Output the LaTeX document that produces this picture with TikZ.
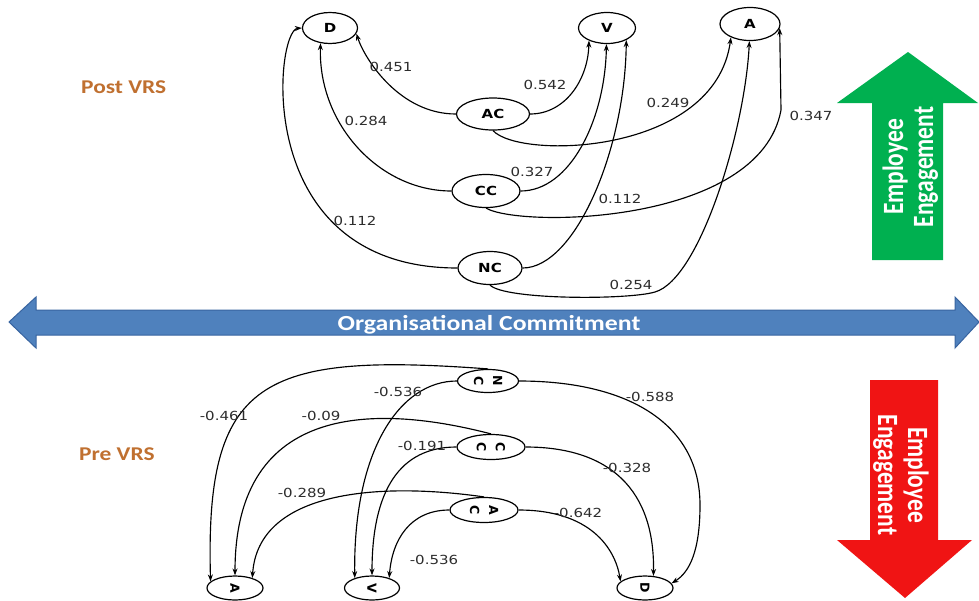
\documentclass[tikz,border=0pt]{standalone}
\usepackage{fontspec}
\usepackage{graphicx}
\usetikzlibrary{shapes.geometric,arrows.meta}
\newfontfamily\numfont{DejaVu Sans}[FakeStretch=1.2]
\newfontfamily\plainfont{DejaVu Sans}
\newfontfamily\calfont{Carlito}[FakeStretch=1.2]
\newfontfamily\calplain{Carlito}
\definecolor{vrs}{RGB}{192,112,48}
\definecolor{blueA}{RGB}{79,129,189}
\definecolor{blueB}{RGB}{56,100,160}
\definecolor{greenA}{RGB}{0,176,80}
\definecolor{redA}{RGB}{240,20,20}
\definecolor{numgray}{RGB}{45,45,45}
\begin{document}
\begin{tikzpicture}[x=1pt,y=-1pt,
  ell/.style={ellipse, draw, line width=1.2pt, inner sep=0pt, font=\numfont\bfseries\fontsize{12.5}{14}\selectfont},
  bell/.style={ellipse, draw, line width=1.2pt, inner sep=0pt, rotate=-90, align=center, font=\plainfont\bfseries\fontsize{12.5}{19}\selectfont},
  conn/.style={line width=1.15pt, -{Stealth[length=7pt,width=5pt]}},
  lab/.style={font=\numfont\fontsize{12.5}{14}\selectfont, text=numgray, inner sep=0pt},
  bigtxt/.style={font=\calfont\bfseries\fontsize{19.5}{24}\selectfont},
  armtxt/.style={font=\calplain\bfseries\fontsize{23.5}{24}\selectfont, text=white, align=center, inner sep=0pt}
]
\useasboundingbox (0,0) rectangle (979,600);
\fill[white] (0,0) rectangle (979,600);

% ---------- side texts ----------
\node[bigtxt, text=vrs, anchor=base west, inner sep=0pt] (post) at (81,93) {Post VRS};
\node[bigtxt, text=vrs, anchor=base west, inner sep=0pt] (pre) at (79,460) {Pre VRS};

% ---------- blue double arrow ----------
\filldraw[fill=blueA, draw=blueB, line width=1pt]
  (9,322) -- (36,297) -- (36,310) -- (955,310) -- (955,297) -- (979,322)
  -- (955,348) -- (955,335) -- (36,335) -- (36,348) -- cycle;
\node[text=white, anchor=base, inner sep=0pt, font=\calfont\bfseries\fontsize{21.5}{24}\selectfont] (oc) at (489,330) {Organisational Commitment};

% ---------- green up arrow ----------
\fill[greenA] (872,260) -- (872,103) -- (837,103) -- (908,52) -- (978,103) -- (943,103) -- (943,260) -- cycle;
\node[armtxt] (eeup) at (912,167) {\scalebox{1.25}[1]{\rotatebox{90}{\begin{tabular}{@{}c@{}}Employee\\Engagement\end{tabular}}}};

% ---------- red down arrow ----------
\fill[redA] (870,380) -- (938,380) -- (938,540) -- (972,540) -- (905,598) -- (837,540) -- (870,540) -- cycle;
\node[armtxt] (eedown) at (899,475) {\scalebox{1.25}[1]{\rotatebox{-90}{\begin{tabular}{@{}c@{}}Employee\\Engagement\end{tabular}}}};

% ---------- top (Post VRS) nodes ----------
\node[ell, minimum width=55pt, minimum height=31pt] (D) at (330,28) {D};
\node[ell, minimum width=57pt, minimum height=31pt] (V) at (607,28) {V};
\node[ell, minimum width=60pt, minimum height=33pt] (A) at (750,24) {A};
\node[ell, minimum width=73pt, minimum height=32pt] (AC) at (493,114) {AC};
\node[ell, minimum width=68pt, minimum height=33pt] (CC) at (486,191) {CC};
\node[ell, minimum width=64pt, minimum height=33pt] (NC) at (490,268) {NC};

\draw[conn] (AC.west) .. controls (400,114) and (365,60) .. (D.-12);
\draw[conn] (AC.east) .. controls (565,114) and (588,80) .. (V.215);
\draw[conn] (AC.south) .. controls (520,160) and (715,155) .. (A.215);
\draw[conn] (CC.west) .. controls (380,191) and (318,125) .. (D.238);
\draw[conn] (CC.east) .. controls (570,191) and (605,120) .. (V.268);
\draw[conn] (CC.south) .. controls (520,228) and (760,225) .. (781,110) -- (A.-8);
\draw[conn] (NC.west) .. controls (250,268) and (275,30) .. (D.west);
\draw[conn] (NC.east) .. controls (575,268) and (625,150) .. (V.-32);
\draw[conn] (NC.south) .. controls (505,300) and (628,300) .. (655,292) .. controls (700,279) and (745,130) .. (A.268);

\node[lab] (l1) at (391,67) {0.451};
\node[lab] (l2) at (545,85) {0.542};
\node[lab] (l3) at (668,103) {0.249};
\node[lab] (l4) at (811,116) {0.347};
\node[lab] (l5) at (366,121) {0.284};
\node[lab] (l6) at (532,172) {0.327};
\node[lab] (l7) at (620,199) {0.112};
\node[lab] (l8) at (355,221) {0.112};
\node[lab] (l9) at (631,285) {0.254};

% ---------- bottom (Pre VRS) nodes: rotated a quarter turn clockwise ----------
% local angle = page angle + 90
\node[bell, minimum height=61pt, minimum width=23pt] (NCb) at (488,381) {N\\C};
\node[bell, minimum height=68pt, minimum width=25pt] (CCb) at (491,447) {C\\C};
\node[bell, minimum height=68pt, minimum width=25pt] (ACb) at (484,510) {A\\C};
\node[bell, minimum height=56pt, minimum width=24pt] (Ab) at (235,588) {A};
\node[bell, minimum height=55pt, minimum width=24pt] (Vb) at (372,588) {V};
\node[bell, minimum height=56pt, minimum width=24pt] (Db) at (645,588) {D};

\draw[conn] (NCb.west) .. controls (260,352) and (205,380) .. (Ab.255);
\draw[conn] (NCb.south) .. controls (400,381) and (353,450) .. (Vb.240);
\draw[conn] (NCb.north) .. controls (630,381) and (700,425) .. (700,505) .. controls (700,550) and (690,572) .. (Db.100);
\draw[conn] (CCb.west) .. controls (380,405) and (235,400) .. (Ab.west);
\draw[conn] (CCb.south) .. controls (400,447) and (372,490) .. (Vb.west);
\draw[conn] (CCb.north) .. controls (610,447) and (655,490) .. (Db.145);
\draw[conn] (ACb.west) .. controls (380,482) and (258,490) .. (Ab.120);
\draw[conn] (ACb.south) .. controls (410,510) and (392,540) .. (Vb.120);
\draw[conn] (ACb.north) .. controls (590,510) and (615,548) .. (Db.255);

\node[lab] (m1) at (224,416) {-0.461};
\node[lab] (m2) at (398,392) {-0.536};
\node[lab] (m3) at (650,397) {-0.588};
\node[lab] (m4) at (321,416) {-0.09};
\node[lab] (m5) at (422,446) {-0.191};
\node[lab] (m6) at (627,468) {-0.328};
\node[lab] (m7) at (302,493) {-0.289};
\node[lab] (m8) at (578,513) {-0.642};
\node[lab] (m9) at (434,560) {-0.536};
\end{tikzpicture}
\end{document}
